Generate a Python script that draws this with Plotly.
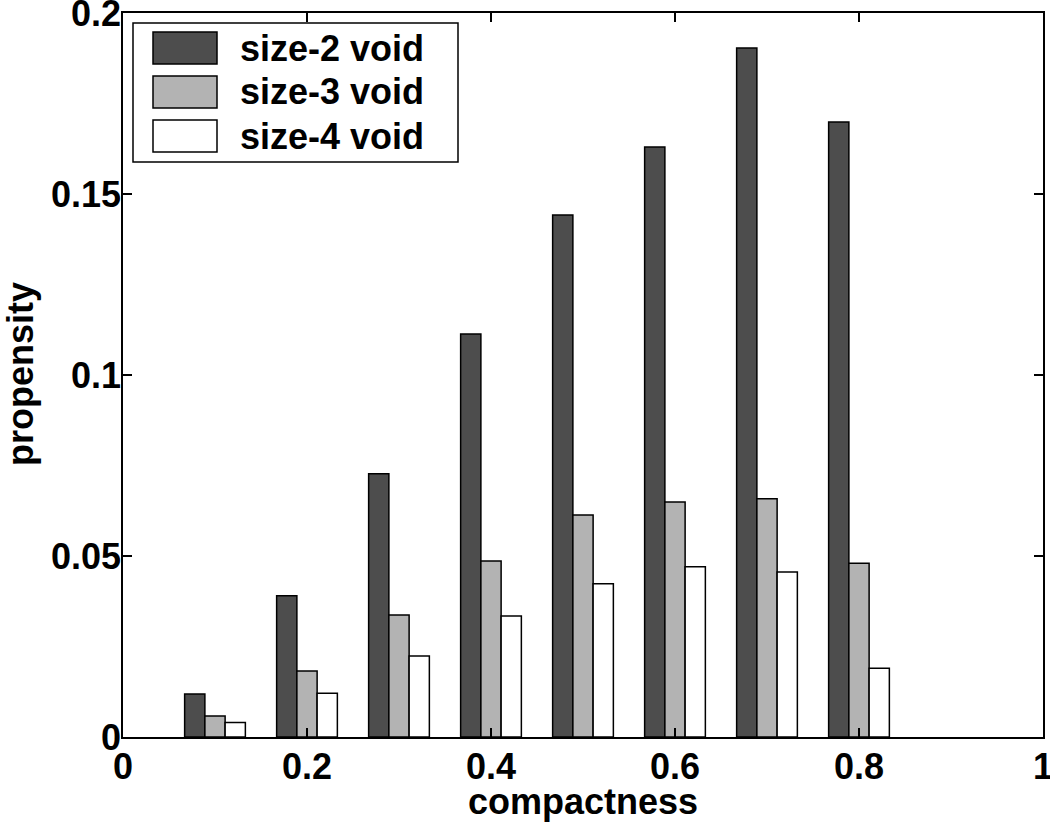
import plotly.graph_objects as go

# ---- data ----
compactness = [0.1, 0.2, 0.3, 0.4, 0.5, 0.6, 0.7, 0.8]
series_names = ["size-2 void", "size-3 void", "size-4 void"]
size2 = [0.0119, 0.0390, 0.0727, 0.1113, 0.1442, 0.1630, 0.1903, 0.1699]
size3 = [0.0058, 0.0182, 0.0337, 0.0486, 0.0613, 0.0649, 0.0658, 0.0480]
size4 = [0.0040, 0.0121, 0.0224, 0.0334, 0.0423, 0.0470, 0.0456, 0.0190]
x_ticks = [0, 0.2, 0.4, 0.6, 0.8, 1]
x_tick_labels = ["0", "0.2", "0.4", "0.6", "0.8", "1"]
y_ticks = [0, 0.05, 0.1, 0.15, 0.2]
y_tick_labels = ["0", "0.05", "0.1", "0.15", "0.2"]
x_title = "compactness"
y_title = "propensity"

colors = ["#4d4d4d", "#b3b3b3", "#ffffff"]
FONT = "Liberation Sans, Arial, sans-serif"
W, H = 1050, 823
L, R, T, B = 123, 7, 13, 86

fig = go.Figure()
for name, vals, col in zip(series_names, [size2, size3, size4], colors):
    fig.add_trace(go.Bar(
        x=compactness, y=vals, name=name,
        marker=dict(color=col, line=dict(color="black", width=1.5)),
        showlegend=False,
    ))

pw, ph = W - L - R, H - T - B
def px(x):
    return (x - L) / pw
def py(y):
    return (H - B - y) / ph

bold36 = dict(family=FONT, size=36, color="black", weight="bold")

# custom MATLAB-style legend
shapes = [dict(type="rect", xref="paper", yref="paper",
               x0=px(133), x1=px(458), y0=py(162), y1=py(23),
               line=dict(color="black", width=1.5), fillcolor="white", layer="above")]
annotations = []
row_tops = [32, 76, 120]
for i, (name, col) in enumerate(zip(series_names, colors)):
    top = row_tops[i]
    shapes.append(dict(type="rect", xref="paper", yref="paper",
                       x0=px(153), x1=px(217), y0=py(top + 32), y1=py(top),
                       line=dict(color="black", width=1.5), fillcolor=col, layer="above"))
    annotations.append(dict(xref="paper", yref="paper", x=px(238), y=py(top + 16),
                            text=name, showarrow=False, xanchor="left", yanchor="middle",
                            font=bold36))

# axis titles
annotations.append(dict(xref="paper", yref="paper", x=px(583), y=py(801),
                        text=x_title, showarrow=False, xanchor="center", yanchor="middle",
                        font=bold36))
annotations.append(dict(xref="paper", yref="paper", x=px(20), y=py(374),
                        text=y_title, showarrow=False, xanchor="center", yanchor="middle",
                        textangle=-90, font=bold36))

axis_common = dict(
    showline=True, linecolor="black", linewidth=1.5, mirror="ticks",
    ticks="inside", ticklen=9, tickwidth=1.5, tickcolor="black",
    showgrid=False, zeroline=False, automargin=False,
    ticklabeloverflow="allow",
    tickfont=bold36,
)

fig.update_layout(
    width=W, height=H,
    margin=dict(l=L, r=R, t=T, b=B),
    paper_bgcolor="white", plot_bgcolor="white",
    barmode="group", bargap=0.34, bargroupgap=0,
    font=bold36,
    xaxis=dict(range=[0, 1], tickvals=x_ticks, ticktext=x_tick_labels,
               ticklabelstandoff=-3, **axis_common),
    yaxis=dict(range=[0, 0.2], tickvals=y_ticks, ticktext=y_tick_labels,
               ticklabelstandoff=-7, **axis_common),
    shapes=shapes, annotations=annotations,
)

fig.write_html("out.html",
               config={"displayModeBar": False},
               post_script="document.body.style.margin='0';document.body.style.overflow='hidden';")
